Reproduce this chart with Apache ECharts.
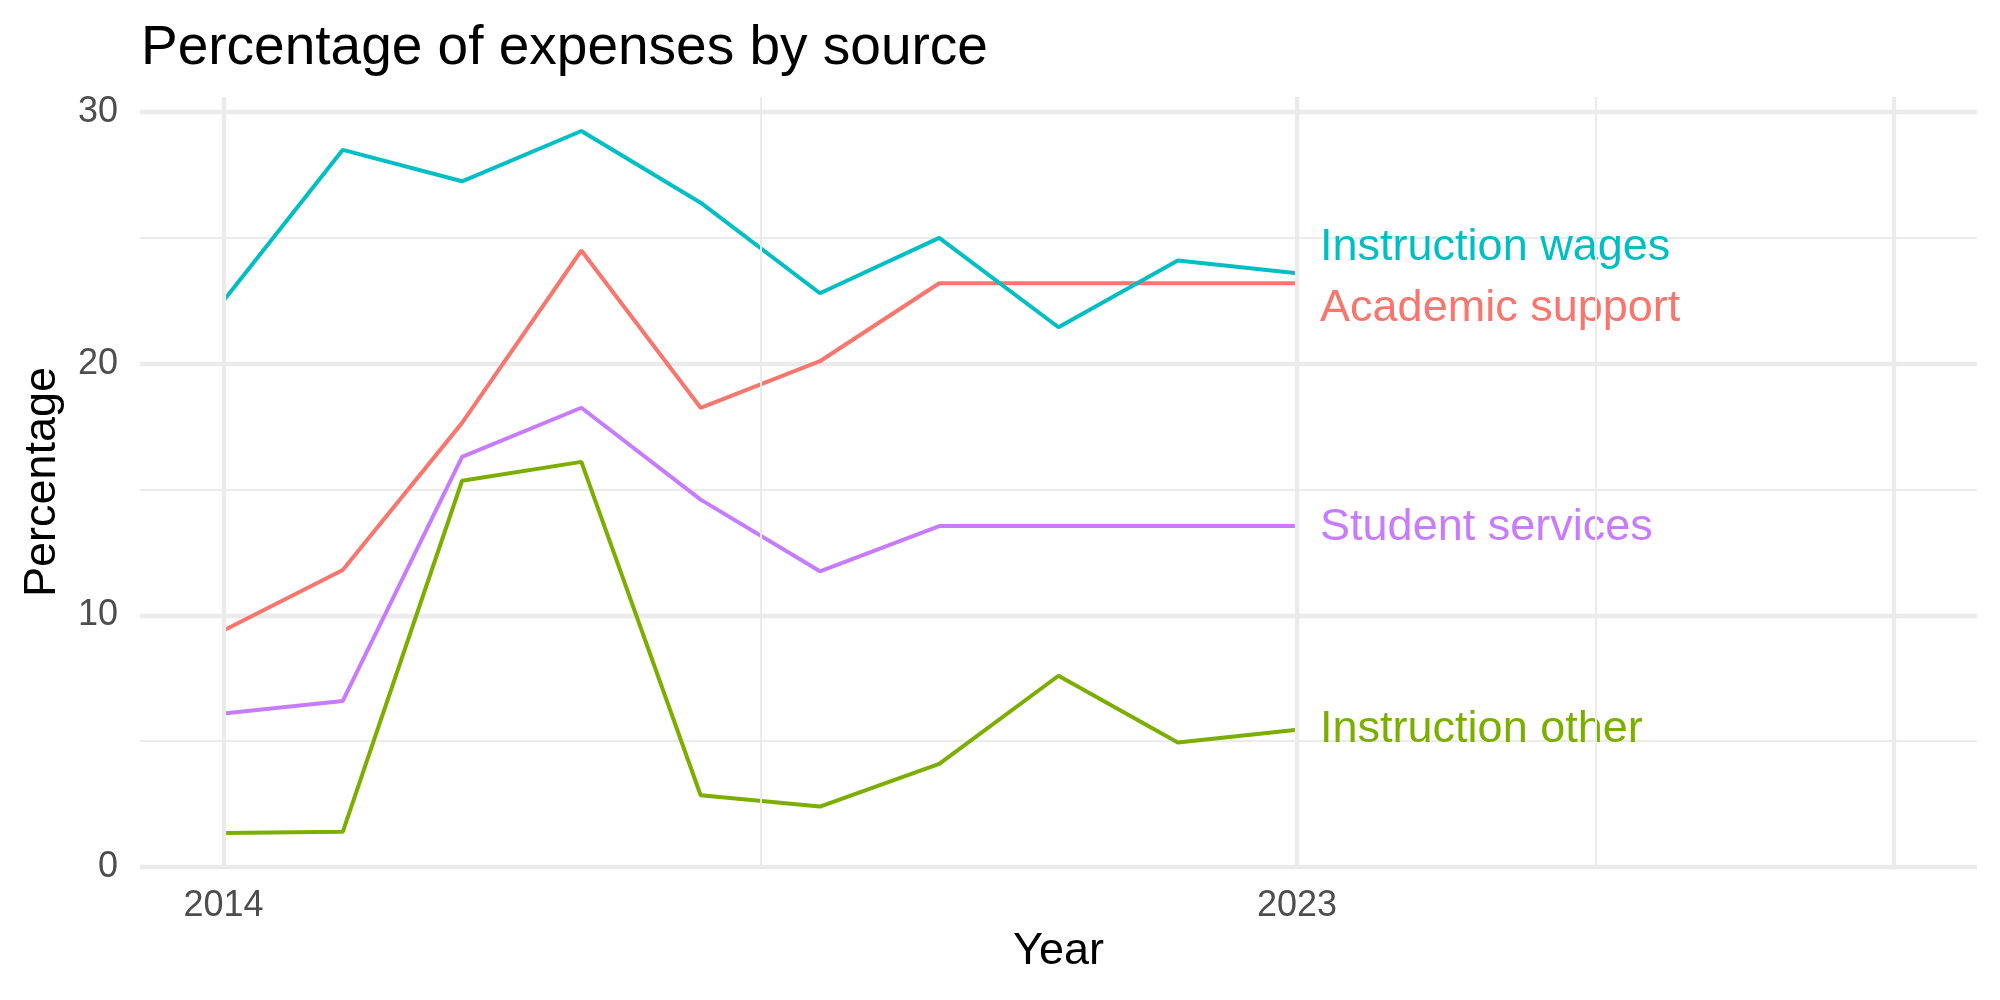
<!DOCTYPE html>
<html>
<head>
<meta charset="utf-8">
<script src="https://cdn.jsdelivr.net/npm/echarts@6/dist/echarts.min.js"></script>
<style>
  html, body { margin: 0; padding: 0; background: #fff; }
  #chart { width: 2000px; height: 1000px; }
</style>
</head>
<body>
<div id="chart"></div>
<script>
const years = [2014, 2015, 2016, 2017, 2018, 2019, 2020, 2021, 2022, 2023];
const instructionWages = [22.5, 28.5, 27.25, 29.25, 26.4, 22.8, 25.0, 21.45, 24.1, 23.6];
const academicSupport = [9.4, 11.8, 17.65, 24.5, 18.25, 20.1, 23.2, 23.2, 23.2, 23.2];
const studentServices = [6.1, 6.6, 16.3, 18.25, 14.6, 11.75, 13.55, 13.55, 13.55, 13.55];
const instructionOther = [1.35, 1.4, 15.35, 16.1, 2.85, 2.4, 4.1, 7.6, 4.95, 5.45];

const xLabelValues = [2014, 2023];
const xMajorLines = [2014, 2023, 2028];
const xMinorLines = [2018.5, 2025.5];

const font = '"Liberation Sans", Arial, Helvetica, sans-serif';
const gridColor = '#ebebeb';

// name, values, colour, label offset [dx, dy]
const seriesDefs = [
    ['Academic support', academicSupport, '#F8766D', [0, 25]],
    ['Instruction other', instructionOther, '#7CAE00', [0, 0]],
    ['Instruction wages', instructionWages, '#00BFC4', [0, -26]],
    ['Student services', studentServices, '#C77CFF', [0, 2]],
];

const pairs = vals => years.map((y, i) => [y, vals[i]]);

const gridLines = {
    type: 'line',
    data: [],
    silent: true,
    z: 1,
    markLine: {
        silent: true,
        symbol: 'none',
        label: { show: false },
        animation: false,
        data: [
            ...xMajorLines.map(v => ({ xAxis: v, lineStyle: { color: gridColor, width: 4.3, type: 'solid' } })),
            ...xMinorLines.map(v => ({ xAxis: v, lineStyle: { color: gridColor, width: 2, type: 'solid' } })),
        ]
    }
};

const lines = seriesDefs.map(([name, vals, color, offset]) => ({
    name: name,
    type: 'line',
    data: pairs(vals),
    showSymbol: false,
    z: 3,
    color: color,
    lineStyle: { color: color, width: 4 },
    endLabel: {
        show: true,
        formatter: name,
        color: color,
        fontFamily: font,
        fontSize: 45,
        distance: 23,
        offset: offset
    }
}));

const chart = echarts.init(document.getElementById('chart'), null, { renderer: 'canvas' });
chart.setOption({
    animation: false,
    backgroundColor: '#fff',
    textStyle: { fontFamily: font },
    title: {
        text: 'Percentage of expenses by source',
        left: 136,
        top: 16,
        textStyle: { fontFamily: font, fontSize: 55, fontWeight: 'normal', color: '#000' }
    },
    grid: { left: 140, right: 23, top: 97, bottom: 133 },
    xAxis: {
        type: 'value',
        min: 2013.3,
        max: 2028.7,
        name: 'Year',
        nameLocation: 'middle',
        nameGap: 58,
        nameTextStyle: { fontFamily: font, fontSize: 45, color: '#000' },
        axisLine: { show: false },
        axisTick: { show: false },
        splitLine: { show: false },
        axisLabel: {
            customValues: xLabelValues,
            formatter: v => String(v),
            fontFamily: font,
            fontSize: 36,
            color: '#4d4d4d',
            margin: 21
        }
    },
    yAxis: {
        type: 'value',
        min: 0,
        max: 30.6,
        interval: 10,
        name: 'Percentage',
        nameLocation: 'middle',
        nameGap: 75,
        nameTextStyle: { fontFamily: font, fontSize: 45, color: '#000' },
        axisLine: { show: false },
        axisTick: { show: false },
        axisLabel: {
            showMaxLabel: false,
            fontFamily: font,
            fontSize: 36,
            color: '#4d4d4d',
            margin: 22
        },
        splitLine: { show: true, showMaxLine: false, lineStyle: { color: gridColor, width: 4.3 } },
        minorTick: { show: false, splitNumber: 2 },
        minorSplitLine: { show: true, lineStyle: { color: gridColor, width: 2 } }
    },
    series: [gridLines, ...lines]
});
</script>
</body>
</html>
